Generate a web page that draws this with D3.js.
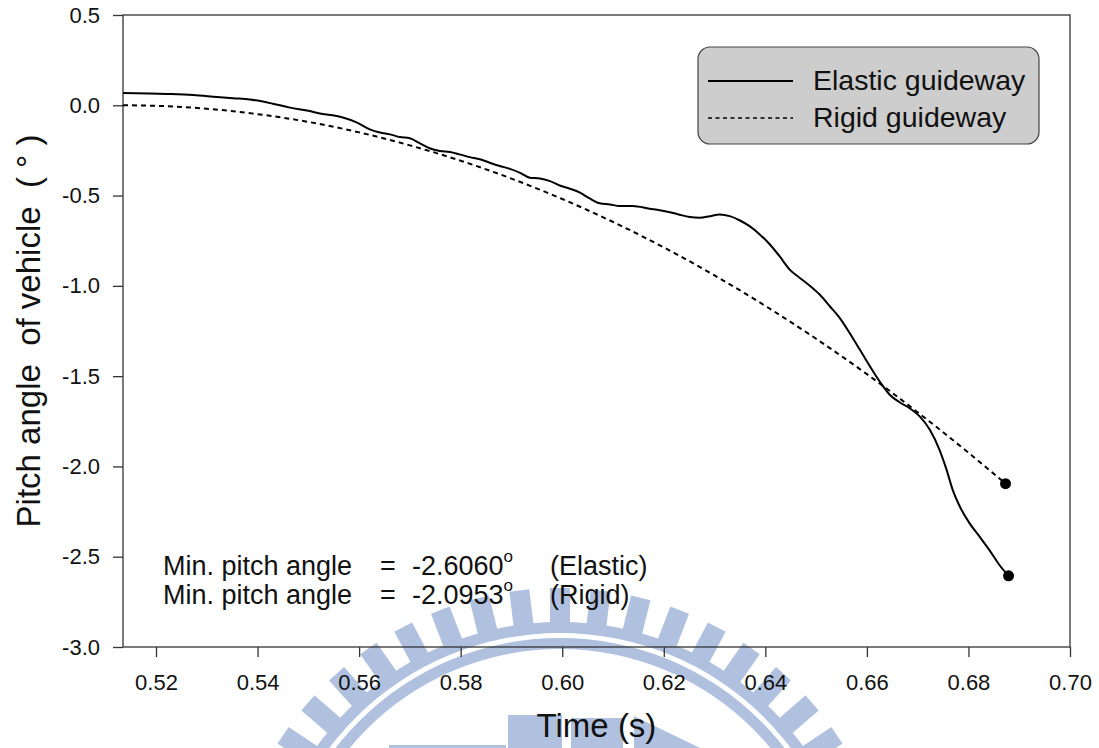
<!DOCTYPE html>
<html>
<head>
<meta charset="utf-8">
<script src="https://cdn.jsdelivr.net/npm/d3@7"></script>
<style>
  html, body { margin: 0; padding: 0; background: #fff; }
  text { font-family: Arial, "Liberation Sans", sans-serif; fill: #111; white-space: pre; }
</style>
</head>
<body>
<svg id="chart"></svg>
<script>

// time (s) and pitch angle (deg)
var timeElastic = [0.5135, 0.5222, 0.5273, 0.5320, 0.5352, 0.5385, 0.5430, 0.5464, 0.5503, 0.5523,
  0.5548, 0.5568, 0.5596, 0.5621, 0.5641, 0.5661, 0.5680, 0.5700, 0.5720, 0.5739,
  0.5759, 0.5779, 0.5798, 0.5818, 0.5838, 0.5857, 0.5877, 0.5897, 0.5917, 0.5936,
  0.5956, 0.5976, 0.5995, 0.6015, 0.6035, 0.6054, 0.6074, 0.6094, 0.6113, 0.6139,
  0.6172, 0.6192, 0.6212, 0.6231, 0.6251, 0.6271, 0.6291, 0.6310, 0.6330, 0.6350,
  0.6369, 0.6389, 0.6409, 0.6428, 0.6448, 0.6468, 0.6487, 0.6507, 0.6527, 0.6546,
  0.6566, 0.6586, 0.6606, 0.6625, 0.6645, 0.6665, 0.6684, 0.6704, 0.6724, 0.6743,
  0.6757, 0.6769, 0.6783, 0.6802, 0.6822, 0.6842, 0.6861, 0.6879];
var pitchElastic = [0.068, 0.063, 0.057, 0.046, 0.039, 0.032, 0.009, -0.013, -0.032, -0.046,
  -0.055, -0.068, -0.096, -0.133, -0.151, -0.161, -0.176, -0.183, -0.211, -0.238,
  -0.253, -0.259, -0.272, -0.287, -0.299, -0.318, -0.336, -0.352, -0.374, -0.401,
  -0.405, -0.420, -0.444, -0.462, -0.484, -0.516, -0.543, -0.549, -0.558, -0.558,
  -0.573, -0.581, -0.592, -0.606, -0.619, -0.623, -0.614, -0.605, -0.614, -0.638,
  -0.669, -0.715, -0.771, -0.836, -0.910, -0.956, -0.998, -1.048, -1.113, -1.176,
  -1.261, -1.353, -1.446, -1.529, -1.603, -1.646, -1.677, -1.723, -1.797, -1.908,
  -2.019, -2.130, -2.222, -2.314, -2.389, -2.466, -2.546, -2.606];

var timeRigid = [0.5135, 0.52, 0.53, 0.54, 0.55, 0.56, 0.57, 0.58, 0.59, 0.60,
  0.61, 0.62, 0.63, 0.64, 0.65, 0.66, 0.67, 0.68, 0.6873];
var pitchRigid = [0.0, -0.003, -0.019, -0.049, -0.092, -0.150, -0.222, -0.307, -0.406, -0.519,
  -0.646, -0.787, -0.942, -1.111, -1.293, -1.489, -1.700, -1.924, -2.0953];

var xTicks = [0.52, 0.54, 0.56, 0.58, 0.60, 0.62, 0.64, 0.66, 0.68, 0.70];
var yTicks = [0.5, 0.0, -0.5, -1.0, -1.5, -2.0, -2.5, -3.0];

var seriesNames = ["Elastic guideway", "Rigid guideway"];
var minValues = ["-2.6060", "-2.0953"];
var minCases = ["(Elastic)", "(Rigid)"];

var svgWidth = 1099, svgHeight = 748;
var plotLeft = 123, plotRight = 1070, plotTop = 15, plotBottom = 647;

var svg = d3.select("#chart")
  .attr("width", svgWidth)
  .attr("height", svgHeight);

svg.append("rect").attr("width", svgWidth).attr("height", svgHeight).attr("fill", "#fff");

var xScale = d3.scaleLinear().domain([0.5135, 0.70]).range([plotLeft, plotRight]);
var yScale = d3.scaleLinear().domain([-3.0, 0.5]).range([plotBottom, plotTop]);

// faint logo watermark behind everything
var wm = svg.append("g").attr("fill", "#b0c1df");
var cx = 560, cy = 922;
var toothAngles = d3.range(-84, 90, 7);
wm.selectAll("rect.tooth")
  .data(toothAngles)
  .enter()
  .append("rect")
  .attr("class", "tooth")
  .attr("x", -10)
  .attr("y", -334)
  .attr("width", 20)
  .attr("height", 36)
  .attr("transform", d => `translate(${cx},${cy}) rotate(${d})`);
var arc = d3.arc();
wm.append("path")
  .attr("transform", `translate(${cx},${cy})`)
  .attr("d", arc({ innerRadius: 289, outerRadius: 300, startAngle: -Math.PI / 2, endAngle: Math.PI / 2 }));
wm.append("path")
  .attr("transform", `translate(${cx},${cy})`)
  .attr("d", arc({ innerRadius: 273, outerRadius: 284, startAngle: -Math.PI / 2, endAngle: Math.PI / 2 }));
wm.append("rect").attr("x", 508).attr("y", 715).attr("width", 54).attr("height", 40);
wm.append("rect").attr("x", 571).attr("y", 718).attr("width", 52).attr("height", 40);
wm.append("rect").attr("x", 389).attr("y", 745).attr("width", 117).attr("height", 10);
wm.append("path").attr("d", "M634,716 L700,748 L634,748 Z");

// axes
var xAxis = d3.axisBottom(xScale)
  .tickValues(xTicks)
  .tickSize(10)
  .tickPadding(17)
  .tickFormat(d => d.toFixed(2));

var yAxis = d3.axisLeft(yScale)
  .tickValues(yTicks)
  .tickSize(10)
  .tickPadding(13)
  .tickFormat(d => d.toFixed(1));

var gx = svg.append("g")
  .attr("transform", `translate(0, ${plotBottom})`)
  .call(xAxis);
var gy = svg.append("g")
  .attr("transform", `translate(${plotLeft}, 0)`)
  .call(yAxis);

[gx, gy].forEach(function(g) {
  g.select(".domain").remove();
  g.attr("font-size", 22).attr("font-family", "Arial, 'Liberation Sans', sans-serif");
  g.selectAll("line").attr("stroke", "#333").attr("stroke-width", 1.3);
  g.selectAll("text").attr("fill", "#111");
});

// frame box
svg.append("rect")
  .attr("x", plotLeft)
  .attr("y", plotTop)
  .attr("width", plotRight - plotLeft)
  .attr("height", plotBottom - plotTop)
  .attr("fill", "none")
  .attr("stroke", "#333")
  .attr("stroke-width", 1.3);

// curves
var elastic = timeElastic.map((t, i) => ({ t: t, v: pitchElastic[i] }));
var rigid = timeRigid.map((t, i) => ({ t: t, v: pitchRigid[i] }));

var line = d3.line()
  .x(d => xScale(d.t))
  .y(d => yScale(d.v))
  .curve(d3.curveMonotoneX);

svg.append("path")
  .datum(rigid)
  .attr("d", line)
  .attr("fill", "none")
  .attr("stroke", "#000")
  .attr("stroke-width", 2)
  .attr("stroke-dasharray", "5,4");

svg.append("path")
  .datum(elastic)
  .attr("d", line)
  .attr("fill", "none")
  .attr("stroke", "#000")
  .attr("stroke-width", 2);

// end points (minimum values)
svg.selectAll("circle.endpt")
  .data([elastic[elastic.length - 1], rigid[rigid.length - 1]])
  .enter()
  .append("circle")
  .attr("class", "endpt")
  .attr("cx", d => xScale(d.t))
  .attr("cy", d => yScale(d.v))
  .attr("r", 5.5)
  .attr("fill", "#000");

// legend
var legend = svg.append("g");
legend.append("rect")
  .attr("x", 698).attr("y", 47)
  .attr("width", 341).attr("height", 97)
  .attr("rx", 12).attr("ry", 12)
  .attr("fill", "#cdcdcd")
  .attr("stroke", "#444")
  .attr("stroke-width", 1.2);

var rows = legend.selectAll("g.row")
  .data(seriesNames)
  .enter()
  .append("g")
  .attr("class", "row")
  .attr("transform", (d, i) => `translate(0, ${i * 37})`);
rows.append("line")
  .attr("x1", 708).attr("x2", 793)
  .attr("y1", 81).attr("y2", 81)
  .attr("stroke", "#000")
  .attr("stroke-width", (d, i) => i == 0 ? 2 : 1.6)
  .attr("stroke-dasharray", (d, i) => i == 0 ? null : "4,3.5");
rows.append("text")
  .attr("x", 813).attr("y", 90)
  .attr("font-size", "28.5px")
  .text(d => d);

// min pitch annotation
var notes = svg.selectAll("g.note")
  .data(minValues)
  .enter()
  .append("g")
  .attr("class", "note")
  .attr("transform", (d, i) => `translate(0, ${575 + i * 29})`);
notes.append("text").attr("x", 163).attr("font-size", "27px").text("Min. pitch angle");
notes.append("text").attr("x", 380).attr("font-size", "27px").text("=");
var val = notes.append("text").attr("x", 412).attr("font-size", "27px");
val.append("tspan").text(d => d);
val.append("tspan").attr("font-size", "17px").attr("dy", -13).text("o");
notes.append("text").attr("x", 550).attr("font-size", "27px").text((d, i) => minCases[i]);

// axis titles
svg.append("text")
  .attr("x", (plotLeft + plotRight) / 2)
  .attr("y", 737)
  .attr("text-anchor", "middle")
  .attr("font-size", "33px")
  .text("Time (s)");

svg.append("text")
  .attr("transform", `translate(40, ${(plotTop + plotBottom) / 2}) rotate(-90)`)
  .attr("text-anchor", "middle")
  .attr("font-size", "33px")
  .text("Pitch angle  of vehicle  ( \u00b0 )");

</script>
</body>
</html>
